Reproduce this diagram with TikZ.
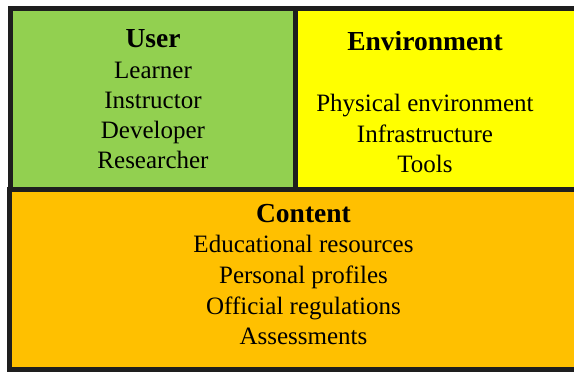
\documentclass[tikz,border=0pt]{standalone}
\usepackage{fontspec}
\setmainfont{Liberation Serif}
\definecolor{usergreen}{HTML}{92D050}
\definecolor{envyellow}{HTML}{FFFF00}
\definecolor{contorange}{HTML}{FFC000}
\definecolor{edge}{HTML}{1E1E1E}
\tikzset{
  panel/.style={draw=edge, line width=5pt},
  head/.style={anchor=base, inner sep=0pt, font=\fontsize{27.5}{33}\selectfont\bfseries},
  item/.style={anchor=base, inner sep=0pt, font=\fontsize{25}{30}\selectfont},
}
\begin{document}
\begin{tikzpicture}[x=1pt,y=-1pt]
\useasboundingbox (0,0) rectangle (574,372);
\clip (0,0) rectangle (574,372);
\fill[white] (0,0) rectangle (574,372);
% panels
\draw[panel, fill=usergreen] (10.5,8) rectangle (295,189);
\draw[panel, fill=envyellow] (295,8) rectangle (590,189);
\draw[panel, fill=contorange] (9.5,189.5) rectangle (590,369);
% User
\node[head] (user) at (153,47) {User};
\node[item] (learner) at (153,78) {Learner};
\node[item] (instructor) at (153,108) {Instructor};
\node[item] (developer) at (153,138) {Developer};
\node[item] (researcher) at (153,168) {Researcher};
% Environment
\node[head] (env) at (425,50) {Environment};
\node[item] (phys) at (425,111) {Physical environment};
\node[item] (infra) at (425,142) {Infrastructure};
\node[item] (tools) at (425,172) {Tools};
% Content
\node[head] (content) at (303.5,222) {Content};
\node[item] (edu) at (303.5,252) {Educational resources};
\node[item] (prof) at (303.5,283) {Personal profiles};
\node[item] (regs) at (303.5,314) {Official regulations};
\node[item] (assess) at (303.5,344) {Assessments};
\end{tikzpicture}
\end{document}
